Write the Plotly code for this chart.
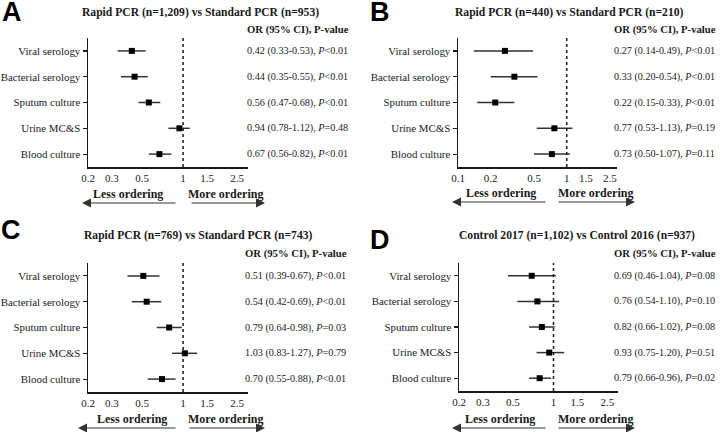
import math
import plotly.graph_objects as go

# ---------------- data ----------------
categories = ["Viral serology", "Bacterial serology", "Sputum culture", "Urine MC&S", "Blood culture"]

a_or = [0.42, 0.44, 0.56, 0.94, 0.67]
a_lo = [0.33, 0.35, 0.47, 0.78, 0.56]
a_hi = [0.53, 0.55, 0.68, 1.12, 0.82]
a_p = ["&lt;0.01", "&lt;0.01", "&lt;0.01", "=0.48", "&lt;0.01"]

b_or = [0.27, 0.33, 0.22, 0.77, 0.73]
b_lo = [0.14, 0.20, 0.15, 0.53, 0.50]
b_hi = [0.49, 0.54, 0.33, 1.13, 1.07]
b_p = ["&lt;0.01", "&lt;0.01", "&lt;0.01", "=0.19", "=0.11"]

c_or = [0.51, 0.54, 0.79, 1.03, 0.70]
c_lo = [0.39, 0.42, 0.64, 0.83, 0.55]
c_hi = [0.67, 0.69, 0.98, 1.27, 0.88]
c_p = ["&lt;0.01", "&lt;0.01", "=0.03", "=0.79", "&lt;0.01"]

d_or = [0.69, 0.76, 0.82, 0.93, 0.79]
d_lo = [0.46, 0.54, 0.66, 0.75, 0.66]
d_hi = [1.04, 1.10, 1.02, 1.20, 0.96]
d_p = ["=0.08", "=0.10", "=0.08", "=0.51", "=0.02"]

panel_letters = ["A", "B", "C", "D"]
panel_titles = [
    "Rapid PCR (n=1,209) vs Standard PCR (n=953)",
    "Rapid PCR (n=440) vs Standard PCR (n=210)",
    "Rapid PCR (n=769) vs Standard PCR (n=743)",
    "Control 2017 (n=1,102) vs Control 2016 (n=937)",
]
ticks_acd = [0.2, 0.3, 0.5, 1, 1.5, 2.5]
ticks_b = [0.1, 0.2, 0.5, 1, 1.5, 2.5]
ref_or = 1
header_text = "OR (95% CI), P-value"
less_text = "Less ordering"
more_text = "More ordering"

# ---------------- layout geometry (pixels) ----------------
W, H = 720, 432
SERIF = "Liberation Serif, Times New Roman, serif"
SANS = "Liberation Sans, Arial, sans-serif"
INK = "#1a1a1a"


def fx(p):
    return p / W


def fy(p):
    return 1 - p / H


panels = [
    dict(data=(a_or, a_lo, a_hi, a_p), ticks=ticks_acd, xr=(0.2, 3.0),
         box=(88, 248, 38, 167), text_x=245, header_y=29, title=(200, 12), letter=(12, 12),
         less=(128, 194), more=(225, 194), arr_y=203, left=(82, 177), right=(190, 265)),
    dict(data=(b_or, b_lo, b_hi, b_p), ticks=ticks_b, xr=(0.1, 2.9),
         box=(458, 617, 38, 167), text_x=612, header_y=29, title=(569, 12), letter=(380, 12),
         less=(501, 193), more=(595, 193), arr_y=202, left=(452, 547), right=(557, 635)),
    dict(data=(c_or, c_lo, c_hi, c_p), ticks=ticks_acd, xr=(0.2, 3.0),
         box=(88, 248, 263, 392), text_x=243, header_y=253, title=(198, 235), letter=(11, 230),
         less=(132, 419), more=(225, 419), arr_y=428, left=(78, 177), right=(188, 265)),
    dict(data=(d_or, d_lo, d_hi, d_p), ticks=ticks_acd, xr=(0.2, 3.0),
         box=(459, 618, 263, 391), text_x=612, header_y=253, title=(577, 235), letter=(380, 240),
         less=(500, 419), more=(595, 419), arr_y=428, left=(452, 547), right=(557, 635)),
]

fig = go.Figure()
annotations = []
shapes = []

for i, pn in enumerate(panels):
    k = "" if i == 0 else str(i + 1)
    xa, ya = "x" + k, "y" + k
    ors, los, his, ps = pn["data"]
    x0, x1, y0, y1 = pn["box"]

    fig.add_trace(go.Scatter(
        x=ors, y=categories, xaxis=xa, yaxis=ya, mode="markers",
        marker=dict(symbol="square", size=6, color="black"),
        error_x=dict(type="data", symmetric=False,
                     array=[h - o for h, o in zip(his, ors)],
                     arrayminus=[o - l for o, l in zip(ors, los)],
                     width=0, thickness=1.5, color="#333333"),
        showlegend=False, hoverinfo="skip",
    ))

    fig.layout["xaxis" + k] = dict(
        domain=[fx(x0), fx(x1)], anchor=ya, type="log", automargin=False,
        range=[math.log10(pn["xr"][0]), math.log10(pn["xr"][1])],
        tickvals=pn["ticks"], ticktext=[f"{t:g}" for t in pn["ticks"]],
        ticks="", showgrid=False, zeroline=False,
        showline=True, linecolor=INK, linewidth=1.5,
        tickfont=dict(family=SERIF, size=11, color=INK),
    )
    fig.layout["yaxis" + k] = dict(
        domain=[fy(y1), fy(y0)], anchor=xa, type="category", automargin=False,
        categoryorder="array", categoryarray=categories[::-1],
        range=[-0.5, len(categories) - 0.5],
        ticks="outside", ticklen=4, tickwidth=1.2, tickcolor=INK,
        showgrid=False, zeroline=False,
        showline=True, linecolor=INK, linewidth=1.5,
        tickfont=dict(family=SERIF, size=10.9, color=INK),
    )

    # reference line at OR = 1
    shapes.append(dict(type="line", xref=xa, yref=ya + " domain",
                       x0=ref_or, x1=ref_or, y0=0, y1=1,
                       line=dict(color=INK, width=1.5, dash="dot")))

    # value column
    for cat, o, l, h, p in zip(categories, ors, los, his, ps):
        annotations.append(dict(
            xref="paper", yref=ya, x=fx(pn["text_x"]), y=cat, xanchor="left", yanchor="middle",
            text=f"{o:.2f} ({l:.2f}-{h:.2f}), <i>P</i>{p}", showarrow=False,
            font=dict(family=SERIF, size=10.2, color=INK)))

    annotations.append(dict(
        xref="paper", yref="paper", x=fx(pn["text_x"]), y=fy(pn["header_y"]),
        xanchor="left", yanchor="middle", text=f"<b>{header_text}</b>", showarrow=False,
        font=dict(family=SERIF, size=10.7, color=INK)))

    annotations.append(dict(
        xref="paper", yref="paper", x=fx(pn["title"][0]), y=fy(pn["title"][1]),
        xanchor="center", yanchor="middle", text=f"<b>{panel_titles[i]}</b>", showarrow=False,
        font=dict(family=SERIF, size=11.6, color=INK)))

    annotations.append(dict(
        xref="paper", yref="paper", x=fx(pn["letter"][0]), y=fy(pn["letter"][1]),
        xanchor="center", yanchor="middle", text=f"<b>{panel_letters[i]}</b>", showarrow=False,
        font=dict(family=SANS, size=27, color="black")))

    for key, txt in (("less", less_text), ("more", more_text)):
        annotations.append(dict(
            xref="paper", yref="paper", x=fx(pn[key][0]), y=fy(pn[key][1]),
            xanchor="center", yanchor="middle", text=f"<b>{txt}</b>", showarrow=False,
            font=dict(family=SERIF, size=12, color=INK)))

    # arrows
    lx0, lx1 = pn["left"]
    rx0, rx1 = pn["right"]
    annotations.append(dict(
        xref="paper", yref="paper", x=fx(lx0), y=fy(pn["arr_y"]),
        ax=lx1 - lx0, ay=0, text="", showarrow=True,
        arrowhead=2, arrowsize=1.5, arrowwidth=1.2, arrowcolor="#333333"))
    annotations.append(dict(
        xref="paper", yref="paper", x=fx(rx1), y=fy(pn["arr_y"]),
        ax=rx0 - rx1, ay=0, text="", showarrow=True,
        arrowhead=2, arrowsize=1.5, arrowwidth=1.2, arrowcolor="#333333"))

fig.update_layout(
    width=W, height=H, margin=dict(l=0, r=0, t=0, b=0),
    paper_bgcolor="white", plot_bgcolor="white",
    annotations=annotations, shapes=shapes, showlegend=False,
)

fig.write_html(
    "out.html",
    config={"displayModeBar": False, "staticPlot": True},
    post_script="document.body.style.margin='0';document.body.style.padding='0';",
)
